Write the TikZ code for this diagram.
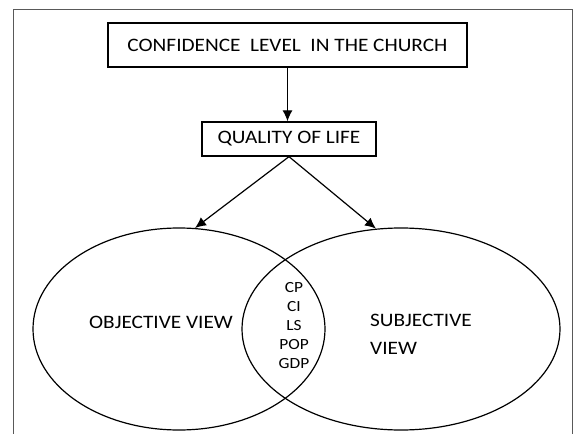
\documentclass[tikz,border=0pt]{standalone}
\usepackage{fontspec}
\setmainfont[FakeStretch=1.12]{Carlito}
\usetikzlibrary{shapes.geometric, arrows.meta}

\begin{document}
\begin{tikzpicture}[x=1pt,y=-1pt]
		\tikzstyle{every node} = [font = \fontsize{19}{28}\selectfont, inner sep = 0pt]
		\tikzstyle{box} = [draw, rectangle, line width = 1.3pt]
		\tikzstyle{view} = [draw, ellipse, line width = 1.2pt, minimum height = 202pt]
		\tikzstyle{flow} = [draw, line width = 1.2pt, -{Latex[length=11pt,width=10pt]}]
			\useasboundingbox (0,0) rectangle (574,434);
			\path[draw, gray!70!black, line width = 1pt](13,434)--
				(13,9)--
				(572,9)--
				(572,434);
			\node[box, minimum width = 359pt, minimum height = 44pt] (church) at (287.5,45) {CONFIDENCE\ \ LEVEL\ \ IN THE CHURCH};
			\node[box, minimum width = 174pt, minimum height = 34pt] (quality) at (289,139) {QUALITY OF LIFE};
			\node[view, minimum width = 292pt] (objective) at (179,329) {};
			\node[view, minimum width = 318pt] (subjective) at (401,329) {};
			\node (objlabel) at (161,322) {OBJECTIVE VIEW};
			\node[align = left, anchor = west] (sublabel) at (370,334) {SUBJECTIVE\\VIEW};
			\node[align = center, font = \fontsize{15.5}{19}\selectfont] (common) at (294,326) {CP\\CI\\LS\\POP\\GDP};
			\path[flow](church.south)--
				(church.south |- quality.north);
			\path[flow](quality.south)--
				(objective.81);
			\path[flow](quality.south)--
				(subjective.104);
		\end{tikzpicture}
\end{document}
